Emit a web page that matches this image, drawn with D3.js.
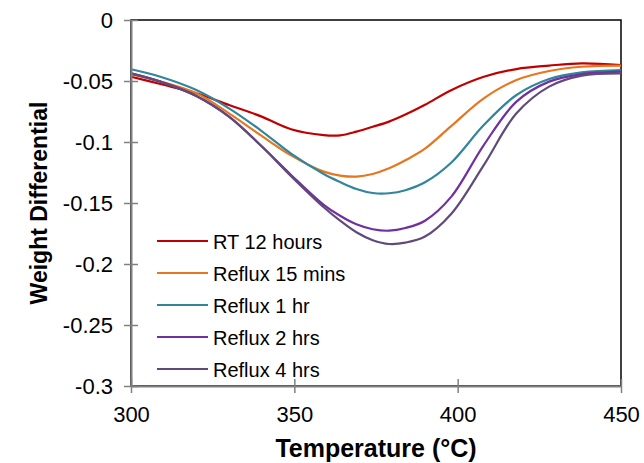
<!DOCTYPE html>
<html>
<head>
<meta charset="utf-8">
<script src="https://cdn.jsdelivr.net/npm/d3@7"></script>
<style>
  body { margin: 0; background: #fff; }
  text { font-family: "Liberation Sans", Arial, sans-serif; }
</style>
</head>
<body>
<script>
// data
var temps    = [300, 309, 320, 330, 340, 349, 359, 364, 369, 374, 379, 384, 390, 398, 408, 418, 428, 438, 450];
var rt12h    = [-0.0465, -0.0525, -0.0601, -0.0697, -0.0792, -0.0895, -0.0943, -0.0945, -0.0915, -0.0875, -0.0833, -0.0775, -0.0695, -0.0575, -0.0465, -0.0402, -0.0374, -0.0355, -0.0369];
var reflux15 = [-0.0447, -0.0505, -0.0601, -0.0765, -0.0950, -0.1110, -0.1243, -0.1275, -0.1284, -0.1262, -0.1216, -0.1150, -0.1055, -0.0870, -0.0642, -0.0492, -0.0418, -0.0383, -0.0374];
var reflux1  = [-0.0404, -0.0465, -0.0574, -0.0724, -0.0910, -0.1095, -0.1262, -0.1328, -0.1385, -0.1418, -0.1420, -0.1395, -0.1330, -0.1170, -0.0861, -0.0615, -0.0484, -0.0429, -0.0410];
var reflux2  = [-0.0437, -0.0505, -0.0623, -0.0792, -0.1035, -0.1270, -0.1515, -0.1605, -0.1675, -0.1715, -0.1727, -0.1705, -0.1645, -0.1450, -0.1025, -0.0669, -0.0505, -0.0443, -0.0423];
var reflux4  = [-0.0437, -0.0505, -0.0623, -0.0792, -0.1035, -0.1280, -0.1535, -0.1645, -0.1740, -0.1805, -0.1836, -0.1825, -0.1775, -0.1590, -0.1189, -0.0765, -0.0546, -0.0456, -0.0437];
var seriesNames  = ["RT 12 hours", "Reflux 15 mins", "Reflux 1 hr", "Reflux 2 hrs", "Reflux 4 hrs"];
var seriesColors = ["#C00000", "#E8761E", "#31859C", "#7030A0", "#604A7B"];
var xTicks = [300, 350, 400, 450];
var yTicks = [0, -0.05, -0.1, -0.15, -0.2, -0.25, -0.3];

var allSeries = [rt12h, reflux15, reflux1, reflux2, reflux4];

var w = 644, h = 463;
var padL = 131, padR = 621, padT = 20, padB = 386;

var svg = d3.select("body").append("svg")
    .attr("width", w)
    .attr("height", h);

var xScale = d3.scaleLinear().domain([300, 450]).range([padL, padR]);
var yScale = d3.scaleLinear().domain([-0.3, 0]).range([padB, padT]);

// plot border, top and right show black
svg.append("rect")
   .attr("x", padL).attr("y", padT)
   .attr("width", padR - padL).attr("height", padB - padT)
   .attr("fill", "none").attr("stroke", "#000").attr("stroke-width", 1.5);

// lines
var line = d3.line()
    .x(function(d) { return xScale(d[0]); })
    .y(function(d) { return yScale(d[1]); })
    .curve(d3.curveCatmullRom.alpha(0.5));

allSeries.forEach(function(vals, i) {
  svg.append("path")
     .datum(temps.map(function(t, j) { return [t, vals[j]]; }))
     .attr("fill", "none")
     .attr("stroke", seriesColors[i])
     .attr("stroke-width", 2.2)
     .attr("d", line);
});

// Y axis
var yAxis = d3.axisLeft(yScale)
    .tickValues(yTicks)
    .tickSize(0)
    .tickPadding(18)
    .tickFormat(function(d) { return d === 0 ? "0" : String(+d.toFixed(2)); });
var gy = svg.append("g")
   .attr("transform", "translate(" + padL + ",0)")
   .call(yAxis);
gy.select(".domain").attr("stroke", "#808080").attr("stroke-width", 2);
gy.selectAll(".tick line").attr("x1", -7).attr("x2", 7).attr("stroke", "#808080").attr("stroke-width", 1.5);
gy.selectAll(".tick text").attr("font-size", 22).attr("fill", "#000")
  .style("font-family", "'Liberation Sans', Arial, sans-serif");

// X axis
var xAxis = d3.axisBottom(xScale)
    .tickValues(xTicks)
    .tickSize(0)
    .tickPadding(20)
    .tickFormat(d3.format("d"));
var gx = svg.append("g")
   .attr("transform", "translate(0," + padB + ")")
   .call(xAxis);
gx.select(".domain").attr("stroke", "#808080").attr("stroke-width", 2);
gx.selectAll(".tick line").attr("y1", -7).attr("y2", 7).attr("stroke", "#808080").attr("stroke-width", 1.5);
gx.selectAll(".tick text").attr("font-size", 22).attr("fill", "#000")
  .style("font-family", "'Liberation Sans', Arial, sans-serif");

// axis titles
svg.append("text")
   .attr("x", 376).attr("y", 457)
   .attr("text-anchor", "middle")
   .attr("font-size", 25).attr("font-weight", "bold")
   .text("Temperature (°C)");

svg.append("text")
   .attr("transform", "translate(47,203) rotate(-90)")
   .attr("text-anchor", "middle")
   .attr("font-size", 23).attr("font-weight", "bold")
   .text("Weight Differential");

// legend
var legend = svg.append("g").attr("transform", "translate(157,241)");
seriesNames.forEach(function(name, i) {
  var row = legend.append("g").attr("transform", "translate(0," + (i * 32) + ")");
  row.append("line")
     .attr("x1", 0).attr("x2", 51).attr("y1", 0).attr("y2", 0)
     .attr("stroke", seriesColors[i]).attr("stroke-width", 2.2);
  row.append("text")
     .attr("x", 56).attr("y", 7.5)
     .attr("font-size", 20)
     .text(name);
});
</script>
</body>
</html>
